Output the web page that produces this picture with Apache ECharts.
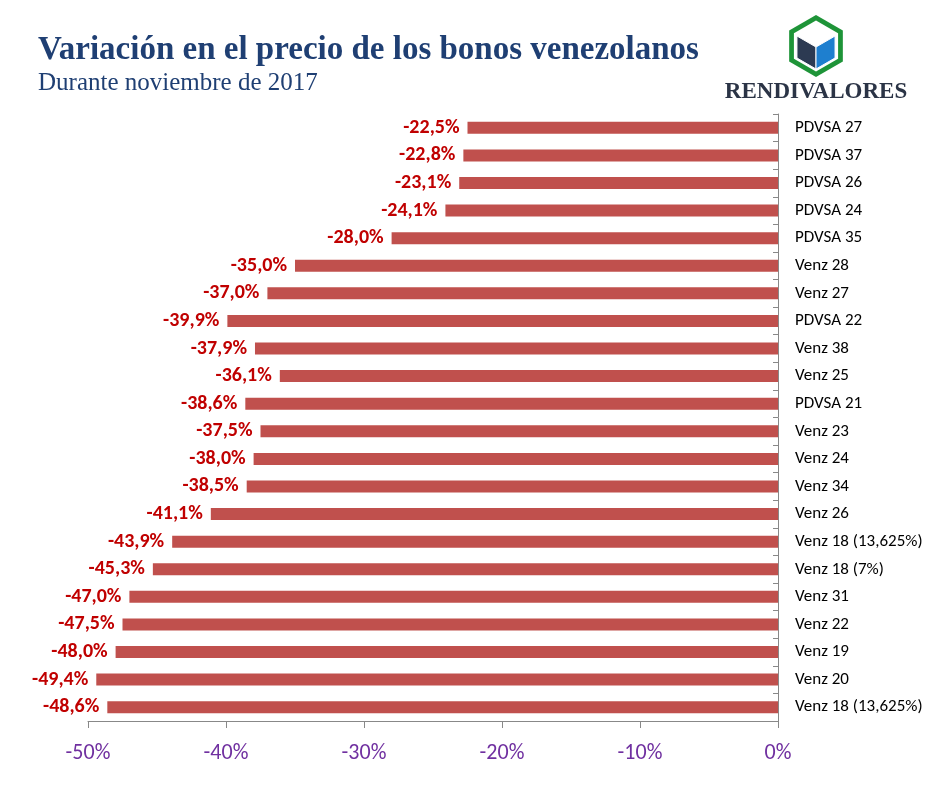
<!DOCTYPE html>
<html><head><meta charset="utf-8">
<script src="https://cdn.jsdelivr.net/npm/echarts@6/dist/echarts.min.js"></script>
<style>html,body{margin:0;padding:0;background:#fff}#c{width:940px;height:785px}</style>
</head><body><div id="c"></div>
<script>
const categories = ["PDVSA 27","PDVSA 37","PDVSA 26","PDVSA 24","PDVSA 35","Venz 28","Venz 27","PDVSA 22","Venz 38","Venz 25","PDVSA 21","Venz 23","Venz 24","Venz 34","Venz 26","Venz 18 (13,625%)","Venz 18 (7%)","Venz 31","Venz 22","Venz 19","Venz 20","Venz 18 (13,625%)"];
const values = [-22.5,-22.8,-23.1,-24.1,-28.0,-35.0,-37.0,-39.9,-37.9,-36.1,-38.6,-37.5,-38.0,-38.5,-41.1,-43.9,-45.3,-47.0,-47.5,-48.0,-49.4,-48.6];
const xTicks = [-50,-40,-30,-20,-10,0];

function hex(cx, cy, r){const p=[];for(let i=0;i<6;i++){const a=Math.PI/180*(60*i-90);p.push([cx+r*Math.cos(a),cy+r*Math.sin(a)]);}return p;}
const cx=816, cy=46;
const outer=hex(cx,cy,31), inner=hex(cx,cy,25.5), cube=hex(cx,cy+1,22);
const c0=[cx,cy+1];
const font='Carlito, Lato, "Open Sans", sans-serif';
const chart = echarts.init(document.getElementById('c'));
chart.setOption({
  animation:false,
  title:[
    {text:'Variación en el precio de los bonos venezolanos',left:33,top:29,textStyle:{fontFamily:'"Liberation Serif", serif',fontWeight:'bold',fontSize:33,color:'#1F3F73'}},
    {text:'Durante noviembre de 2017',left:33,top:66,textStyle:{fontFamily:'"Liberation Serif", serif',fontWeight:'normal',fontSize:25,color:'#1F3F73'}}
  ],
  graphic:[
    {type:'polygon',shape:{points:outer},style:{fill:'#1E9438'}},
    {type:'polygon',shape:{points:inner},style:{fill:'#fff'}},
    {type:'polygon',shape:{points:[cube[0],cube[1],c0,cube[5]]},style:{fill:'#fff'}},
    {type:'polygon',shape:{points:[cube[5],c0,cube[3],cube[4]]},style:{fill:'#2C3A52',stroke:'#fff',lineWidth:1}},
    {type:'polygon',shape:{points:[c0,cube[1],cube[2],cube[3]]},style:{fill:'#1E7FCF',stroke:'#fff',lineWidth:1}},
    {type:'text',x:816,y:92,style:{text:'RENDIVALORES',textAlign:'center',textVerticalAlign:'middle',font:'bold 23px "Liberation Serif", serif',fill:'#2B3446'}}
  ],
  grid:{left:88,right:162,top:114,bottom:64},
  xAxis:{type:'value',min:-50,max:0,interval:10,
    axisLine:{show:true,lineStyle:{color:'#888'}},
    axisTick:{show:true,length:7,lineStyle:{color:'#888'}},
    splitLine:{show:false},
    axisLabel:{margin:21,fontSize:22,fontFamily:font,color:'#7030A0',formatter:v=>v+'%'}},
  yAxis:{type:'category',data:categories,inverse:true,position:'right',
    axisLine:{show:true,lineStyle:{color:'#888'}},
    axisTick:{show:true,inside:true,length:5,lineStyle:{color:'#888'}},
    axisLabel:{margin:17,fontSize:17,fontFamily:font,color:'#000'}},
  series:[{type:'bar',data:values,barWidth:12,itemStyle:{color:'#C0504D'},
    label:{show:true,position:'left',distance:8,fontFamily:font,fontWeight:'bold',fontSize:20,color:'#C00000',
      formatter:p=>p.value.toFixed(1).replace('.',',')+'%'}}]
});
</script></body></html>
